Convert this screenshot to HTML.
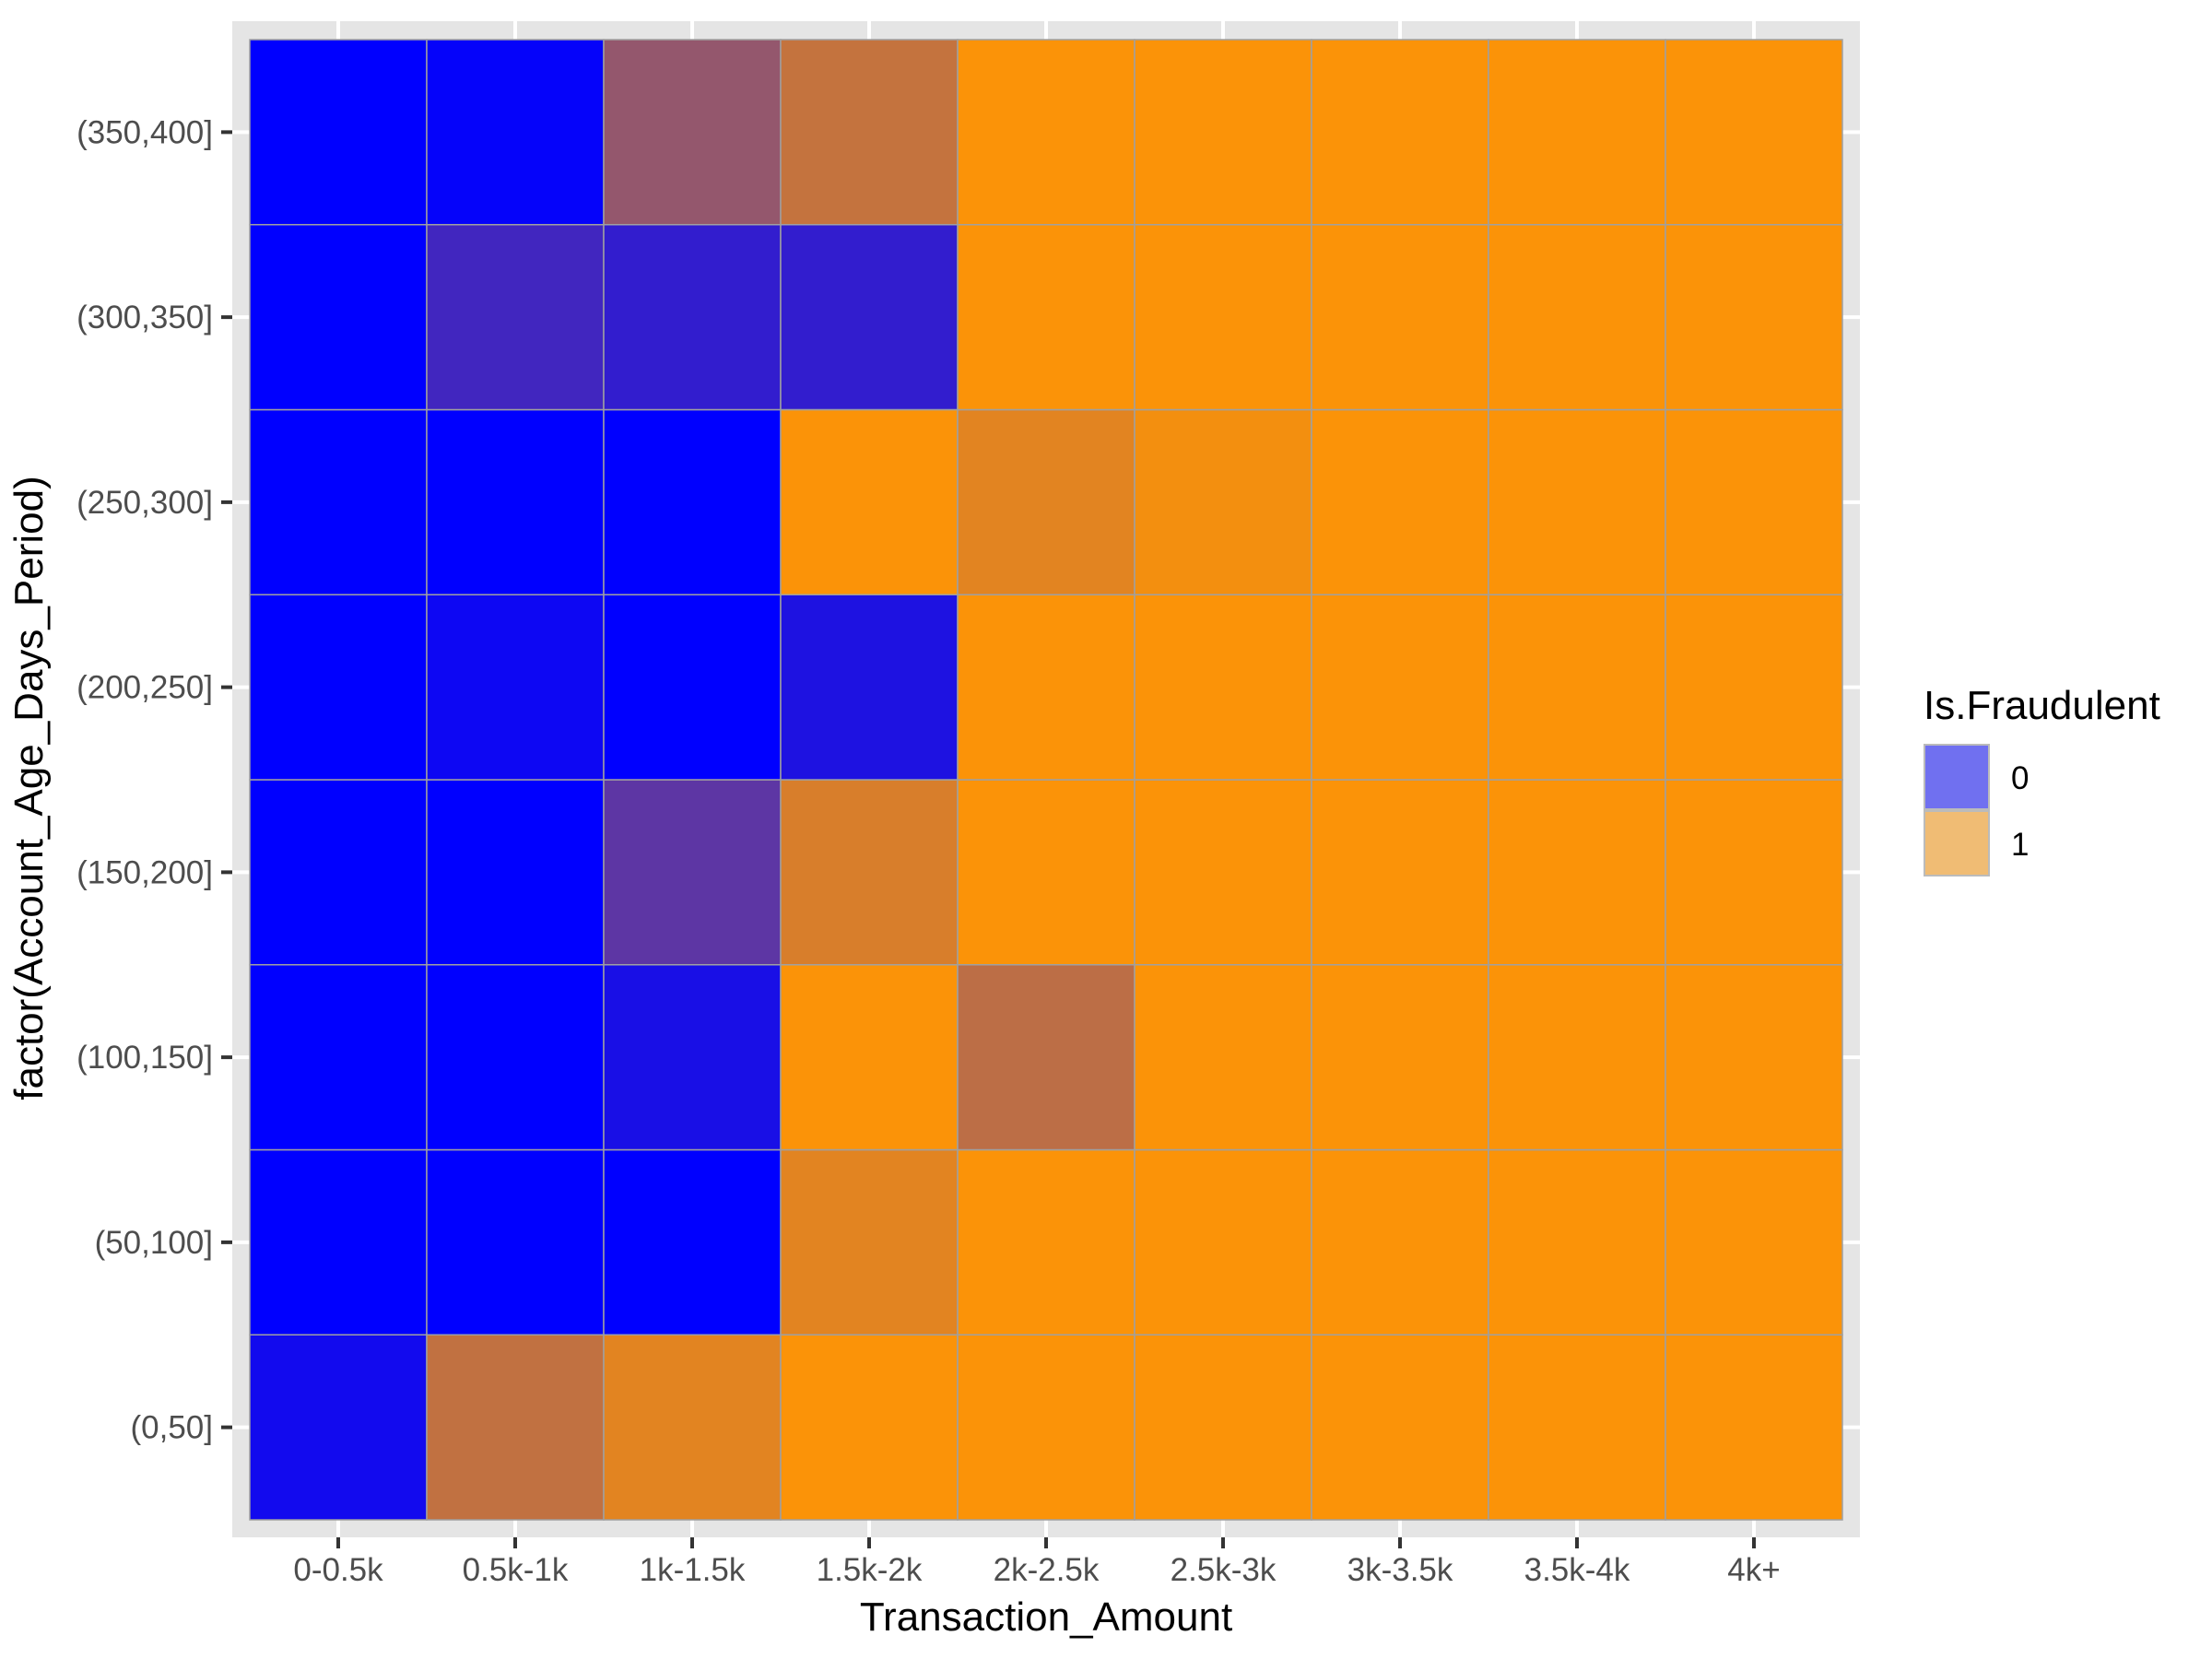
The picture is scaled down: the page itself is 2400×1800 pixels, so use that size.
<!DOCTYPE html>
<html><head><meta charset="utf-8"><style>
html,body{margin:0;padding:0;background:#fff;}
svg{display:block;font-family:"Liberation Sans",Arial,sans-serif;}
</style></head><body>
<svg id="chart" width="2400" height="1800" viewBox="0 0 2400 1800">
<rect x="252" y="23" width="1766" height="1645" fill="#e5e5e5"/>
<g id="grid"></g>
<g id="tiles"></g>
<g id="xaxis"></g>
<g id="yaxis"></g>
<text x="1135" y="1769" font-size="44" fill="#000" text-anchor="middle">Transaction_Amount</text>
<text x="0" y="0" font-size="44" fill="#000" text-anchor="middle" transform="translate(46,855) rotate(-90)">factor(Account_Age_Days_Period)</text>
<g>
<text x="2087" y="780" font-size="44" fill="#000">Is.Fraudulent</text>
<rect x="2088" y="808" width="70" height="70" fill="#7070f0" stroke="#bbb" stroke-width="2"/>
<rect x="2088" y="880" width="70" height="70" fill="#f0bc74" stroke="#bbb" stroke-width="2"/>
<text x="2182" y="856" font-size="35" fill="#000">0</text>
<text x="2182" y="928" font-size="35" fill="#000">1</text>
</g>
</svg>
<script>
const xCategories = ["0-0.5k","0.5k-1k","1k-1.5k","1.5k-2k","2k-2.5k","2.5k-3k","3k-3.5k","3.5k-4k","4k+"];
const yCategories = ["(0,50]","(50,100]","(100,150]","(150,200]","(200,250]","(250,300]","(300,350]","(350,400]"];
// fraud share per cell, rows follow yCategories (bottom to top)
const row0 = [0.07,0.77,0.90,1,1,1,1,1,1];
const row1 = [0,0,0,0.90,1,1,1,1,1];
const row2 = [0,0,0.10,1,0.75,1,1,1,1];
const row3 = [0,0,0.37,0.86,1,1,1,1,1];
const row4 = [0,0.05,0,0.12,1,1,1,1,1];
const row5 = [0,0,0,1,0.90,0.97,1,1,1];
const row6 = [0,0.26,0.20,0.20,1,1,1,1,1];
const row7 = [0,0.02,0.59,0.78,1,1,1,1,1];
const values = [row0,row1,row2,row3,row4,row5,row6,row7];

const NS="http://www.w3.org/2000/svg";
const L=271,R=1999,T=43,B=1649;
const bw=(R-L)/xCategories.length, bh=(B-T)/yCategories.length;
const xPos=i=>L+i*bw;
const yPos=j=>B-(j+1)*bh;
function color(f){
  const r=Math.round(251*f), g=Math.round(147*f), b=Math.round(255-247*f);
  return `rgb(${r},${g},${b})`;
}
function mk(tag,attrs,parent){const e=document.createElementNS(NS,tag);for(const k in attrs)e.setAttribute(k,attrs[k]);parent.appendChild(e);return e;}
const grid=document.getElementById('grid'),tiles=document.getElementById('tiles'),xa=document.getElementById('xaxis'),ya=document.getElementById('yaxis');
xCategories.forEach((c,i)=>{
  const cx=xPos(i)+bw/2;
  const gl=mk('line',{x1:cx,x2:cx,y1:23,y2:1668,stroke:'#fff','stroke-width':4},grid);
  
  
  const tk=mk('line',{x1:cx,x2:cx,y1:1668,y2:1680,stroke:'#333','stroke-width':4},xa);
  
  
  const t=mk('text',{x:cx,y:1715,'font-size':35,fill:'#4d4d4d','text-anchor':'middle'},xa);
  t.textContent=c;
  
  
});
yCategories.forEach((c,j)=>{
  const cy=yPos(j)+bh/2;
  const gl=mk('line',{x1:252,x2:2018,y1:cy,y2:cy,stroke:'#fff','stroke-width':4},grid);
  
  
  const tk=mk('line',{x1:240,x2:252,y1:cy,y2:cy,stroke:'#333','stroke-width':4},ya);
  
  
  const t=mk('text',{x:231,y:cy+12,'font-size':35,fill:'#4d4d4d','text-anchor':'end'},ya);
  t.textContent=c;
  
  
});
values.forEach((row,j)=>row.forEach((v,i)=>{
  const r=mk('rect',{x:xPos(i),y:yPos(j),width:bw,height:bh,fill:color(v),stroke:'#a0a0a0','stroke-width':1.5},tiles);
  
  
}));
</script>
</body></html>
